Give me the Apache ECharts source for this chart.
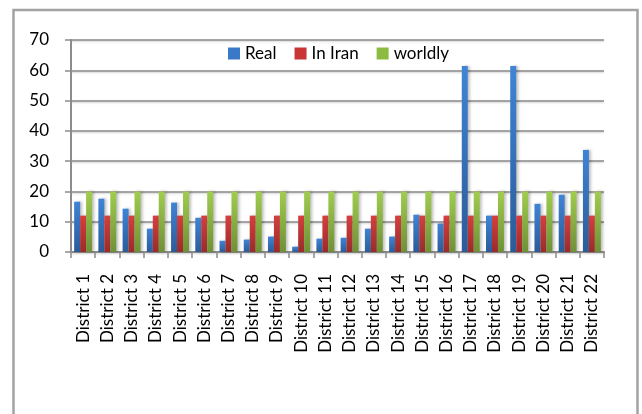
<!DOCTYPE html>
<html>
<head>
<meta charset="utf-8">
<script src="https://cdn.jsdelivr.net/npm/echarts@6/dist/echarts.min.js"></script>
<style>
  html, body { margin: 0; padding: 0; background: #fff; }
  #chart { width: 642px; height: 414px; }
</style>
</head>
<body>
<div id="chart"></div>
<script>
'use strict';

var districts = ['District 1', 'District 2', 'District 3', 'District 4', 'District 5', 'District 6',
  'District 7', 'District 8', 'District 9', 'District 10', 'District 11', 'District 12',
  'District 13', 'District 14', 'District 15', 'District 16', 'District 17', 'District 18',
  'District 19', 'District 20', 'District 21', 'District 22'];
var real = [16.6, 17.6, 14.3, 7.7, 16.3, 11.3, 3.7, 4.1, 5.1, 1.75, 4.4, 4.7, 7.7, 5.1, 12.3, 9.4, 61.4, 12.0, 61.4, 15.9, 18.9, 33.7];
var inIran = [12, 12, 12, 12, 12, 12, 12, 12, 12, 12, 12, 12, 12, 12, 12, 12, 12, 12, 12, 12, 12, 12];
var worldly = [20, 20, 20, 20, 20, 20, 20, 20, 20, 20, 20, 20, 20, 20, 20, 20, 20, 20, 20, 20, 20, 20];

var FONT = 'Lato';

// vertical gradient like the office bar fill
function grad(top, bottom) {
  return new echarts.graphic.LinearGradient(0, 0, 0, 1, [
    { offset: 0, color: top },
    { offset: 1, color: bottom }
  ]);
}

function barSeries(name, data, top, bottom, legendColor) {
  return {
    name: name,
    type: 'bar',
    data: data,
    barGap: '0%',
    barCategoryGap: '26%',
    itemStyle: {
      color: grad(top, bottom),
      shadowColor: 'rgba(0,0,0,0.25)',
      shadowBlur: 3,
      shadowOffsetX: 2
    },
    emphasis: { disabled: true },
    // legend icon gets a flat color
    legendColor: legendColor
  };
}

var series = [
  barSeries('Real', real, '#3f84d6', '#2c5b98', '#3a78c8'),
  barSeries('In Iran', inIran, '#d63f3f', '#992b2b', '#c93434'),
  barSeries('worldly', worldly, '#a0cd4e', '#6f9036', '#8cbb42')
];

var chart = echarts.init(document.getElementById('chart'));
chart.setOption({
  animation: false,
  textStyle: { fontFamily: FONT },
  graphic: [{
    type: 'rect',
    shape: { x: 13.5, y: 10, width: 624, height: 430 },
    style: { fill: 'none', stroke: '#a3a3a3', lineWidth: 2.5 },
    silent: true
  }],
  legend: {
    left: 228,
    top: 45,
    padding: 0,
    itemWidth: 12,
    itemHeight: 12,
    itemGap: 18,
    icon: 'rect',
    textStyle: { fontFamily: FONT, fontSize: 17, color: '#000' },
    data: series.map(function (s) {
      return { name: s.name, itemStyle: { color: s.legendColor } };
    })
  },
  grid: { left: 71, right: 38, top: 40, bottom: 162 },
  xAxis: {
    type: 'category',
    data: districts,
    axisLine: { lineStyle: { color: '#8c8c8c', width: 2 } },
    axisTick: { show: true, length: 6, lineStyle: { color: '#8c8c8c', width: 1.5 } },
    axisLabel: {
      rotate: 90,
      margin: 22,
      interval: 0,
      fontFamily: FONT,
      fontSize: 17,
      color: '#000'
    }
  },
  yAxis: {
    type: 'value',
    min: 0,
    max: 70,
    interval: 10,
    axisLine: { show: true, lineStyle: { color: '#8c8c8c', width: 2 } },
    axisTick: { show: true, length: 6, lineStyle: { color: '#8c8c8c', width: 1.5 } },
    axisLabel: { margin: 22, fontFamily: FONT, fontSize: 17, color: '#000' },
    splitLine: {
      lineStyle: {
        color: '#8a8a8a',
        width: 1.5,
        shadowColor: 'rgba(0,0,0,0.2)',
        shadowBlur: 2,
        shadowOffsetY: 1
      }
    }
  },
  series: series
});
</script>
</body>
</html>
